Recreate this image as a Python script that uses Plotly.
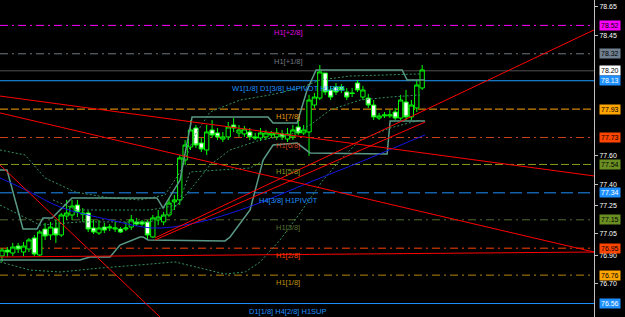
import plotly.graph_objects as go

# ---------------- candle data (bar index 0..78) ----------------
opens = [76.895, 76.937, 76.916, 76.965, 76.923, 76.944, 77.022, 76.902, 77.085, 77.043,
         77.092, 77.043, 77.177, 77.184, 77.254, 77.198, 77.198, 77.092, 77.057, 77.099,
         77.092, 77.085, 77.085, 77.085, 77.099, 77.135, 77.135, 77.135, 77.029, 77.149,
         77.135, 77.184, 77.276, 77.290, 77.571, 77.663, 77.797, 77.691, 77.642, 77.783,
         77.762, 77.719, 77.734, 77.818, 77.762, 77.755, 77.769, 77.734, 77.727, 77.734,
         77.748, 77.734, 77.755, 77.719, 77.734, 77.804, 77.762, 77.769, 77.959, 78.008,
         78.184, 78.065, 78.086, 78.086, 78.051, 78.044, 78.114, 78.015, 78.008, 77.959,
         77.867, 77.882, 77.882, 77.910, 77.867, 77.980, 77.875, 77.938, 78.079]
highs = [76.951, 76.958, 76.987, 76.987, 76.994, 77.022, 77.043, 77.078, 77.128, 77.135,
         77.149, 77.198, 77.290, 77.290, 77.290, 77.233, 77.212, 77.149, 77.149, 77.128,
         77.120, 77.135, 77.099, 77.135, 77.184, 77.163, 77.149, 77.149, 77.184, 77.219,
         77.205, 77.304, 77.325, 77.607, 77.712, 77.853, 77.818, 77.727, 77.818, 77.853,
         77.797, 77.769, 77.839, 77.867, 77.818, 77.811, 77.797, 77.762, 77.797, 77.783,
         77.776, 77.797, 77.783, 77.797, 77.818, 77.853, 77.818, 78.030, 78.044, 78.241,
         78.184, 78.093, 78.114, 78.107, 78.079, 78.079, 78.135, 78.093, 78.037, 77.994,
         77.903, 77.910, 77.924, 77.938, 78.030, 78.065, 77.994, 78.135, 78.241]
lows = [76.853, 76.888, 76.895, 76.916, 76.895, 76.923, 76.895, 76.895, 77.008, 77.008,
        76.987, 77.029, 77.149, 77.149, 77.170, 77.135, 77.064, 77.050, 77.043, 77.057,
        77.071, 77.064, 77.057, 77.071, 77.078, 77.106, 77.106, 77.008, 77.022, 77.113,
        77.113, 77.170, 77.219, 77.254, 77.536, 77.642, 77.656, 77.628, 77.607, 77.727,
        77.712, 77.698, 77.712, 77.769, 77.734, 77.734, 77.712, 77.712, 77.705, 77.712,
        77.727, 77.712, 77.712, 77.698, 77.712, 77.748, 77.748, 77.600, 77.938, 77.994,
        78.030, 77.994, 78.030, 78.044, 77.994, 78.015, 78.051, 77.994, 77.938, 77.853,
        77.853, 77.867, 77.867, 77.853, 77.853, 77.853, 77.853, 77.910, 78.065]
closes = [76.937, 76.923, 76.958, 76.944, 76.965, 77.008, 76.909, 77.064, 77.036, 77.099,
          77.043, 77.184, 77.198, 77.247, 77.205, 77.191, 77.085, 77.064, 77.092, 77.078,
          77.099, 77.092, 77.064, 77.092, 77.149, 77.120, 77.120, 77.043, 77.163, 77.170,
          77.184, 77.268, 77.290, 77.586, 77.677, 77.783, 77.677, 77.649, 77.769, 77.748,
          77.734, 77.734, 77.804, 77.797, 77.783, 77.790, 77.734, 77.727, 77.762, 77.762,
          77.762, 77.762, 77.734, 77.755, 77.783, 77.762, 77.783, 77.994, 78.015, 78.192,
          78.051, 78.015, 78.051, 78.065, 78.015, 78.040, 78.065, 78.065, 77.959, 77.875,
          77.882, 77.889, 77.889, 77.867, 77.994, 77.875, 77.959, 78.100, 78.206]
bars = list(range(len(opens)))

# ---------------- price channel (solid teal) ----------------
ch_up_x = [-0.37, 0.93, 3.90, 6.50, 7.61, 9.29, 13.0, 28.78, 29.90, 30.83, 33.05, 35.28,
           49.40, 50.32, 54.78, 56.64, 58.31, 74.28, 75.21, 78.55]
ch_up_y = [77.501, 77.501, 77.085, 77.085, 77.163, 77.163, 77.304, 77.304, 77.233, 77.290,
           77.430, 77.874, 77.874, 77.832, 77.832, 78.065, 78.206, 78.206, 78.135, 78.135]
ch_dn_x = [-0.37, 14.48, 16.34, 20.06, 21.91, 25.63, 26.18, 27.11, 41.41, 42.34, 46.05,
           47.54, 48.47, 50.32, 54.78, 57.20, 71.50, 72.05, 78.55]
ch_dn_y = [76.867, 76.867, 76.888, 76.888, 76.972, 77.029, 77.029, 77.008, 77.001, 77.029,
           77.219, 77.430, 77.571, 77.677, 77.691, 77.621, 77.614, 77.846, 77.846]

# ---------------- dotted bands ----------------
bu_x = [-0.37, 4.27, 7.99, 13.56, 20.06, 25.63, 30.27, 33.05, 35.84, 38.63, 44.2, 49.77,
        55.34, 59.05, 64.62, 77.62]
bu_y = [77.642, 77.607, 77.445, 77.346, 77.304, 77.290, 77.325, 77.487, 77.748, 77.910,
        77.994, 78.030, 78.079, 78.135, 78.163, 78.178]
bm_x = [-0.37, 7.06, 14.48, 21.91, 27.48, 31.2, 34.91, 38.63, 42.34, 47.91, 53.48, 57.2,
        60.91, 66.48, 72.05, 77.62]
bm_y = [77.254, 77.113, 77.135, 77.135, 77.135, 77.198, 77.360, 77.536, 77.642, 77.712,
        77.748, 77.818, 77.924, 77.994, 78.015, 78.030]
bl_x = [-0.37, 5.2, 10.77, 18.2, 25.63, 32.13, 36.77, 41.41, 45.13, 47.91, 51.62, 55.34,
        59.61, 62.77, 66.48, 72.05, 77.62]
bl_y = [76.853, 76.796, 76.782, 76.810, 76.832, 76.853, 76.810, 76.768, 76.782, 76.853,
        77.008, 77.198, 77.430, 77.571, 77.712, 77.797, 77.853]
bi_x = [9.47, 13.93, 27.48, 32.68, 34.91, 46.05, 48.84]
bi_y = [77.290, 77.219, 77.219, 77.254, 77.487, 77.515, 77.571]

# ---------------- moving average (blue) ----------------
ma_x = [-0.37, 5.2, 10.77, 20.06, 28.41, 36.77, 44.2, 49.21, 58.12, 66.48, 77.62, 78.55]
ma_y = [77.445, 77.346, 77.240, 77.149, 77.092, 77.135, 77.219, 77.290, 77.430, 77.557,
        77.734, 77.748]

# ---------------- red trend lines (start/end) ----------------
trend_x = [[-0.37, 109.9], [-0.37, 109.9], [-0.37, 29.34], [-0.37, 109.9],
           [28.41, 109.9], [28.41, 78.55]]
trend_y = [[78.022, 77.459], [77.903, 76.923], [77.536, 76.465], [76.888, 76.923],
           [77.022, 78.488], [77.008, 77.839]]

# ---------------- Murrey levels ----------------
levels = [78.52, 78.32, 78.20, 78.13, 77.93, 77.73, 77.54, 77.34, 77.15, 76.95, 76.76, 76.56]
level_names = ["H1[+2/8]", "H1[+1/8]", "", "W1[1/8] D1[3/8] H4PIVOT H1RES", "H1[7/8]",
               "H1[6/8]", "H1[5/8]", "H4[3/8] H1PIVOT", "H1[3/8]", "H1[2/8]", "H1[1/8]",
               "D1[1/8] H4[2/8] H1SUP"]
level_colors = ["#ff00ff", "#6e7880", "#505050", "#1e9bff", "#ffa500", "#c8401a",
                "#8c9c1c", "#1e90ff", "#556b2f", "#ff4500", "#b8860b", "#1e90ff"]
level_text_colors = ["#e000e0", "#707880", "#505050", "#1e90ff", "#e89a10", "#c8401a",
                     "#8c9c1c", "#1e90ff", "#5a7030", "#ff4500", "#c0900b", "#1e90ff"]
level_dash = ["8px,4px,2px,4px", "8px,4px,2px,4px", "solid", "solid", "8px,3px",
              "8px,4px,2px,4px", "8px,3px", "12px,5px", "8px,4px,2px,4px",
              "8px,4px,2px,4px", "8px,4px,2px,4px", "solid"]
box_colors = ["#ff00ff", "#708090", "#ffffff", "#1e90ff", "#ffa500", "#ff4500",
              "#6b8e23", "#1e90ff", "#6b8e23", "#ff4500", "#ffa500", "#1e90ff"]
box_font = ["#000000", "#000000", "#000000", "#ffffff", "#000000", "#000000",
            "#000000", "#ffffff", "#000000", "#000000", "#000000", "#ffffff"]
tick_vals = [78.65, 78.45, 77.60, 77.40, 77.25, 77.05, 76.90, 76.70]

fig = go.Figure()

for lv, col, dash in zip(levels, level_colors, level_dash):
    fig.add_hline(y=lv, line=dict(color=col, width=1, dash=dash), layer="below")

dot_col = "#35925e"
for xs, ys in [(bu_x, bu_y), (bm_x, bm_y), (bl_x, bl_y), (bi_x, bi_y)]:
    fig.add_trace(go.Scatter(x=xs, y=ys, mode="lines",
                             line=dict(color=dot_col, width=1, dash="2px,2px"),
                             hoverinfo="skip", showlegend=False))

for xs, ys in [(ch_up_x, ch_up_y), (ch_dn_x, ch_dn_y)]:
    fig.add_trace(go.Scatter(x=xs, y=ys, mode="lines",
                             line=dict(color="#5a9a88", width=1.5),
                             hoverinfo="skip", showlegend=False))

fig.add_trace(go.Scatter(x=ma_x, y=ma_y, mode="lines", line=dict(color="#1515e6", width=1),
                         line_shape="spline", hoverinfo="skip", showlegend=False))

for xs, ys in zip(trend_x, trend_y):
    fig.add_trace(go.Scatter(x=xs, y=ys, mode="lines", line=dict(color="#ff0000", width=1),
                             hoverinfo="skip", showlegend=False))

fig.add_trace(go.Candlestick(
    x=bars, open=opens, high=highs, low=lows, close=closes,
    increasing=dict(line=dict(color="#00ff00", width=1), fillcolor="#000000"),
    decreasing=dict(line=dict(color="#00ff00", width=1), fillcolor="#ffffff"),
    whiskerwidth=0, showlegend=False, hoverinfo="skip"))

# level names
for lv, name, col in zip(levels, level_names, level_text_colors):
    if name:
        fig.add_annotation(x=0.485, xref="paper", y=lv, yref="y", text=name,
                           showarrow=False, xanchor="center", yanchor="top", yshift=-1,
                           font=dict(family="Liberation Sans, Arial", size=7.5, color=col))

# price boxes on the axis
for lv, bc, fc in zip(levels, box_colors, box_font):
    fig.add_annotation(x=1, xref="paper", y=lv, yref="y", text=f"{lv:.2f}",
                       showarrow=False, xanchor="left", yanchor="middle", xshift=5,
                       bgcolor=bc, borderpad=1,
                       font=dict(family="Liberation Sans, Arial", size=7, color=fc))

fig.update_layout(
    width=625, height=317, autosize=False,
    margin=dict(l=0, r=31, t=0, b=0, pad=0),
    paper_bgcolor="#000000", plot_bgcolor="#000000",
    showlegend=False,
    boxgap=0.2, boxgroupgap=0.0,
    xaxis=dict(range=[-0.37, 109.9], visible=False, rangeslider=dict(visible=False),
               showgrid=False, zeroline=False),
    yaxis=dict(range=[76.465, 78.699], side="right", showgrid=False, zeroline=False,
               tickvals=tick_vals, ticktext=[f"{v:.2f}" for v in tick_vals],
               ticks="outside", ticklen=3, tickcolor="#c0c0c0",
               showline=True, linecolor="#c0c0c0", linewidth=1,
               tickfont=dict(family="Liberation Sans, Arial", size=7, color="#ffffff")),
)

fig.write_html("out.html")
